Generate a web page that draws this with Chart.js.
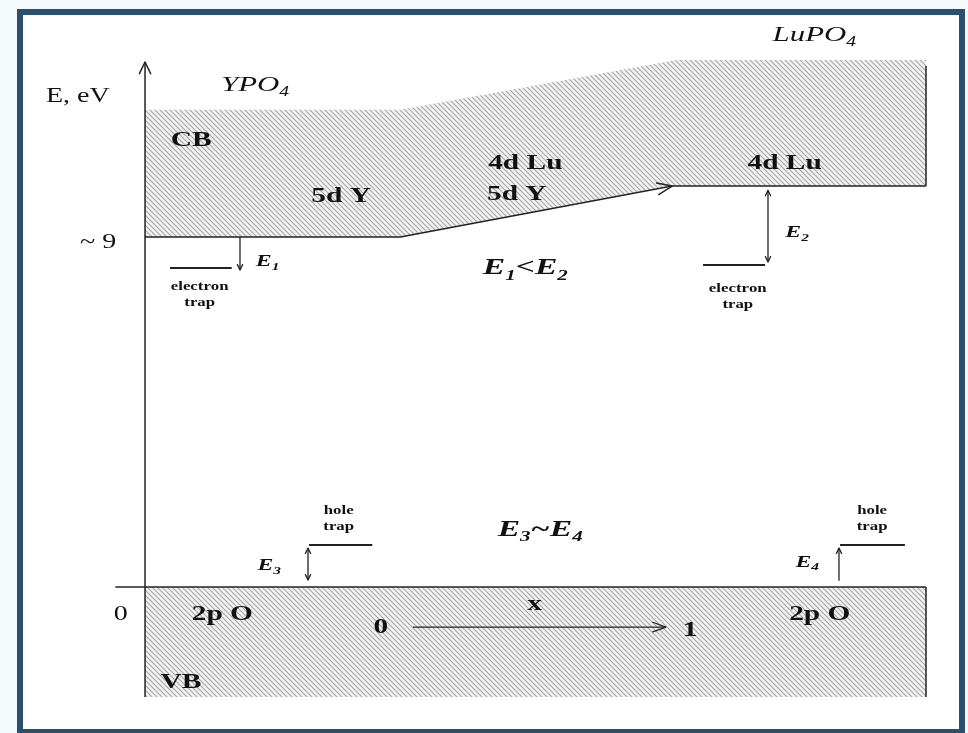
<!DOCTYPE html>
<html>
<head>
<meta charset="utf-8">
<script src="https://cdn.jsdelivr.net/npm/chart.js@4"></script>
<style>
  html, body { margin: 0; padding: 0; background: #f4f9fb; }
  .frame {
    position: absolute; left: 17px; top: 9px; width: 936px; height: 714px;
    border: 6px solid #2b4f6f; background: #ffffff;
  }
  #chart { position: absolute; left: 0; top: 0; }
</style>
</head>
<body>
<div class="frame"></div>
<canvas id="chart" width="968" height="733"></canvas>
<script>
// --- Band edges (x: position along YPO4 -> LuPO4, y: energy in eV) ---
const cbTopX = [0, 3.27, 6.8, 10];
const cbTopY = [12.27, 12.27, 13.55, 13.55];
const cbBottomX = [0, 3.27, 6.75, 10];
const cbBottomY = [9, 9, 10.31, 10.31];
const cbRightEdgeY = [13.4, 10.31];

const vbTopX = [-0.38, 10];
const vbTopY = [0, 0];
const vbFillX = [0, 10];
const vbBottomY = -2.83;

const axisY = [-2.83, 13.5];

// --- Trap levels ---
const trapStartX = [0.32, 7.145, 2.10, 8.90];
const trapEndX = [1.11, 7.94, 2.91, 9.73];
const trapLevelY = [8.2, 8.28, 1.08, 1.08];

// --- Depth arrows E1..E4 ---
const depthX = [1.216, 7.977, 2.087, 8.886];
const depthFrom = [9.0, 10.2, 0.18, 0.16];
const depthTo = [8.15, 8.36, 1.0, 1.0];
const depthHeads = ['end', 'both', 'both', 'end'];

// --- Composition arrow x: 0 -> 1 ---
const compX = [3.43, 6.67];
const compY = -1.03;

const LINE = '#222222';
const SERIF = '"Liberation Serif", "DejaVu Serif", serif';
const STRETCH = 1.4; // the source lettering is wide

// text annotations, placed in data coordinates
const notes = [
    { t: 'E, eV', x: -0.86, y: 12.6, size: 20, style: '' },
    { t: '~ 9', x: -0.60, y: 8.85, size: 20, style: '' },
    { t: '0', x: -0.31, y: -0.72, size: 20, style: '' },
    { t: 'YPO_4', x: 1.41, y: 12.91, size: 22, style: 'italic' },
    { t: 'LuPO_4', x: 8.57, y: 14.19, size: 22, style: 'italic' },
    { t: 'CB', x: 0.59, y: 11.49, size: 21, style: 'bold' },
    { t: '5d Y', x: 2.51, y: 10.03, size: 21, style: 'bold' },
    { t: '4d Lu', x: 4.87, y: 10.90, size: 21, style: 'bold' },
    { t: '5d Y', x: 4.76, y: 10.08, size: 21, style: 'bold' },
    { t: '4d Lu', x: 8.19, y: 10.90, size: 21, style: 'bold' },
    { t: 'E_1<E_2', x: 4.87, y: 8.20, size: 24, style: 'bold italic' },
    { t: 'E_3~E_4', x: 5.06, y: 1.47, size: 24, style: 'bold italic' },
    { t: 'x', x: 4.99, y: -0.46, size: 21, style: 'bold' },
    { t: '0', x: 3.02, y: -1.05, size: 21, style: 'bold' },
    { t: '1', x: 6.98, y: -1.13, size: 21, style: 'bold' },
    { t: '2p O', x: 0.99, y: -0.72, size: 21, style: 'bold' },
    { t: '2p O', x: 8.64, y: -0.72, size: 21, style: 'bold' },
    { t: 'VB', x: 0.46, y: -2.47, size: 21, style: 'bold' },
    { t: 'E_1', x: 1.57, y: 8.36, size: 17, style: 'bold italic' },
    { t: 'E_2', x: 8.35, y: 9.10, size: 17, style: 'bold italic' },
    { t: 'E_3', x: 1.59, y: 0.54, size: 17, style: 'bold italic' },
    { t: 'E_4', x: 8.48, y: 0.64, size: 17, style: 'bold italic' },
    { t: 'electron', x: 0.70, y: 7.71, size: 12, style: 'bold' },
    { t: 'trap', x: 0.70, y: 7.30, size: 12, style: 'bold' },
    { t: 'electron', x: 7.59, y: 7.66, size: 12, style: 'bold' },
    { t: 'trap', x: 7.59, y: 7.25, size: 12, style: 'bold' },
    { t: 'hole', x: 2.48, y: 1.95, size: 12, style: 'bold' },
    { t: 'trap', x: 2.48, y: 1.54, size: 12, style: 'bold' },
    { t: 'hole', x: 9.31, y: 1.95, size: 12, style: 'bold' },
    { t: 'trap', x: 9.31, y: 1.54, size: 12, style: 'bold' }
];

const ctx = document.getElementById('chart').getContext('2d');

function makeHatch() {
    const c = document.createElement('canvas');
    c.width = 5; c.height = 5;
    const g = c.getContext('2d');
    g.fillStyle = '#f2f2f2';
    g.fillRect(0, 0, 5, 5);
    g.strokeStyle = '#a9a9a9';
    g.lineWidth = 1.2;
    g.beginPath();
    g.moveTo(-1, -1); g.lineTo(6, 6);
    g.moveTo(-1, 4); g.lineTo(1, 6);
    g.moveTo(4, -1); g.lineTo(6, 1);
    g.stroke();
    return ctx.createPattern(c, 'repeat');
}
const hatch = makeHatch();

const pts = (xs, ys) => xs.map((x, i) => ({ x: x, y: ys[i] }));
const line = (data, extra) => Object.assign({
    data: data, borderColor: LINE, borderWidth: 1.5, pointRadius: 0, fill: false, tension: 0, order: 0
}, extra || {});
const area = { borderWidth: 0, borderColor: 'rgba(0,0,0,0)', backgroundColor: hatch, order: 10 };

const datasets = [
    // conduction band: hatched area between top and bottom edges
    line(pts(cbTopX, cbTopY), Object.assign({ fill: '+1' }, area)),
    line(pts(cbBottomX, cbBottomY), { arrowAt: 2 }),
    line(pts([10, 10], cbRightEdgeY)),
    // valence band
    line(pts(vbFillX, [0, 0]), Object.assign({ fill: { value: vbBottomY } }, area)),
    line(pts(vbTopX, vbTopY)),
    line(pts([10, 10], [0, vbBottomY])),
    // energy axis
    line(pts([0, 0], axisY), { arrowHead: 'axis' }),
    // composition arrow
    line(pts(compX, [compY, compY]), { borderWidth: 1.3, arrowHead: 'end' })
];
trapStartX.forEach((x0, i) => {
    datasets.push(line(pts([x0, trapEndX[i]], [trapLevelY[i], trapLevelY[i]]), { borderWidth: 2 }));
});
depthX.forEach((x, i) => {
    datasets.push(line(pts([x, x], [depthFrom[i], depthTo[i]]), { borderWidth: 1.3, arrowHead: depthHeads[i], headSize: 6 }));
});

function openHead(c, tip, from, size, spread) {
    const a = Math.atan2(tip.y - from.y, tip.x - from.x);
    c.beginPath();
    c.moveTo(tip.x - size * Math.cos(a - spread), tip.y - size * Math.sin(a - spread));
    c.lineTo(tip.x, tip.y);
    c.lineTo(tip.x - size * Math.cos(a + spread), tip.y - size * Math.sin(a + spread));
    c.stroke();
}

const arrowPlugin = {
    id: 'arrows',
    afterDatasetsDraw(chart) {
        const c = chart.ctx;
        c.save();
        c.strokeStyle = LINE;
        c.lineCap = 'round';
        c.lineJoin = 'round';
        chart.data.datasets.forEach((ds, i) => {
            const el = chart.getDatasetMeta(i).data;
            if (ds.arrowAt !== undefined) {
                c.lineWidth = 1.4;
                openHead(c, el[ds.arrowAt], el[ds.arrowAt - 1], 16, 0.38);
            }
            if (!ds.arrowHead) return;
            const n = el.length;
            const size = ds.headSize || 14;
            if (ds.arrowHead === 'axis') {
                c.lineWidth = 1.5;
                openHead(c, el[n - 1], el[0], 13, 0.45);
                return;
            }
            c.lineWidth = ds.borderWidth;
            openHead(c, el[n - 1], el[0], size, ds.headSize ? 0.45 : 0.35);
            if (ds.arrowHead === 'both') openHead(c, el[0], el[n - 1], size, 0.45);
        });
        c.restore();
    }
};

// text with one-character subscripts written as _N, stretched horizontally
function drawRich(c, str, x, y, size, style) {
    const parts = [];
    for (let i = 0; i < str.length; i++) {
        if (str[i] === '_') { parts.push({ s: str[i + 1], sub: true }); i++; }
        else parts.push({ s: str[i], sub: false });
    }
    const fontFor = p => `${style} ${p.sub ? Math.round(size * 0.62) : size}px ${SERIF}`;
    let w = 0;
    parts.forEach(p => { c.font = fontFor(p); p.w = c.measureText(p.s).width; w += p.w; });
    c.save();
    c.translate(x, y);
    c.scale(STRETCH, 1);
    let cx = -w / 2;
    parts.forEach(p => {
        c.font = fontFor(p);
        c.fillText(p.s, cx, p.sub ? size * 0.32 : 0);
        cx += p.w;
    });
    c.restore();
}

const notesPlugin = {
    id: 'notes',
    afterDraw(chart) {
        const c = chart.ctx;
        const xs = chart.scales.x, ys = chart.scales.y;
        c.save();
        c.fillStyle = '#111111';
        c.textBaseline = 'middle';
        c.textAlign = 'left';
        notes.forEach(n => drawRich(c, n.t, xs.getPixelForValue(n.x), ys.getPixelForValue(n.y), n.size, n.style));
        c.restore();
    }
};

new Chart(ctx, {
    type: 'scatter',
    data: { datasets: datasets },
    options: {
        responsive: false,
        animation: false,
        showLine: true,
        layout: { padding: 0 },
        plugins: { legend: { display: false }, tooltip: { enabled: false } },
        scales: {
            x: { type: 'linear', display: false, min: -1.857, max: 10.538 },
            y: { type: 'linear', display: false, min: -3.754, max: 15.094 }
        },
        datasets: { scatter: { clip: false } }
    },
    plugins: [arrowPlugin, notesPlugin]
});
</script>
</body>
</html>
